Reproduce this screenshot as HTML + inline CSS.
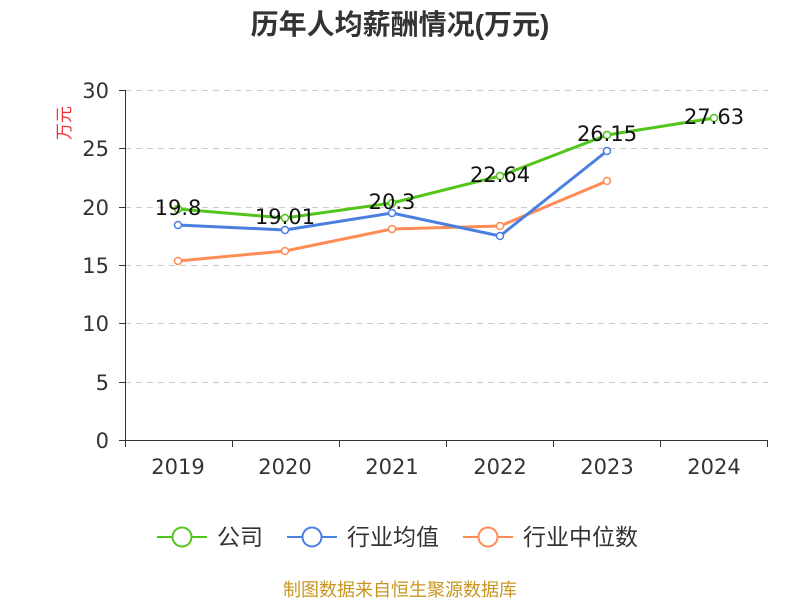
<!DOCTYPE html>
<html><head><meta charset="utf-8"><style>
body{margin:0;background:#fff;}
text{font-family:"DejaVu Sans","Noto Sans CJK SC",sans-serif;}
.c{font-family:"Liberation Sans","Noto Sans CJK SC",sans-serif;}
</style></head><body>
<svg width="800" height="600" xmlns="http://www.w3.org/2000/svg">
<text class="c" x="400" y="34" text-anchor="middle" font-size="28" font-weight="bold" fill="#333">历年人均薪酬情况(万元)</text>
<text class="c" transform="translate(70,123) rotate(-90)" text-anchor="middle" font-size="17" fill="#e33">万元</text>
<g stroke="#ccc" stroke-dasharray="6,5" stroke-width="1">
<line x1="125" x2="768" y1="90.5" y2="90.5"/><line x1="125" x2="768" y1="148.5" y2="148.5"/>
<line x1="125" x2="768" y1="207.5" y2="207.5"/><line x1="125" x2="768" y1="265.5" y2="265.5"/>
<line x1="125" x2="768" y1="323.5" y2="323.5"/><line x1="125" x2="768" y1="382.5" y2="382.5"/>
</g>
<g stroke="#333" stroke-width="1">
<line x1="125.5" x2="125.5" y1="90" y2="440"/>
<line x1="125" x2="768" y1="440.5" y2="440.5"/>
<line x1="119" x2="125" y1="90.5" y2="90.5"/><line x1="119" x2="125" y1="148.5" y2="148.5"/>
<line x1="119" x2="125" y1="207.5" y2="207.5"/><line x1="119" x2="125" y1="265.5" y2="265.5"/>
<line x1="119" x2="125" y1="323.5" y2="323.5"/><line x1="119" x2="125" y1="382.5" y2="382.5"/>
<line x1="119" x2="125" y1="440.5" y2="440.5"/>
<line x1="125.5" x2="125.5" y1="440" y2="447"/><line x1="232.5" x2="232.5" y1="440" y2="447"/>
<line x1="339.5" x2="339.5" y1="440" y2="447"/><line x1="446.5" x2="446.5" y1="440" y2="447"/>
<line x1="553.5" x2="553.5" y1="440" y2="447"/><line x1="660.5" x2="660.5" y1="440" y2="447"/>
<line x1="767.5" x2="767.5" y1="440" y2="447"/>
</g>
<g font-size="21" fill="#333" text-anchor="end">
<text x="109" y="98">30</text><text x="109" y="156">25</text><text x="109" y="215">20</text>
<text x="109" y="273">15</text><text x="109" y="331">10</text><text x="109" y="390">5</text><text x="109" y="448">0</text>
</g>
<g font-size="21" fill="#333" text-anchor="middle">
<text x="178" y="474">2019</text><text x="285" y="474">2020</text><text x="392" y="474">2021</text>
<text x="500" y="474">2022</text><text x="607" y="474">2023</text><text x="714" y="474">2024</text>
</g>
<g fill="none" stroke-width="3">
<polyline stroke="#ff8c55" points="178,261 285,251 392,229 500,226 607,181"/>
<polyline stroke="#4a7fe0" points="178,225 285,230 392,213 500,236 607,151"/>
<polyline stroke="#52c41a" points="178,209 285,218 392,203 500,176 607,135 714,118"/>
</g>
<g fill="#fff" stroke-width="1.5">
<g stroke="#ff8c55"><circle cx="178" cy="261" r="3.5"/><circle cx="285" cy="251" r="3.5"/><circle cx="392" cy="229" r="3.5"/><circle cx="500" cy="226" r="3.5"/><circle cx="607" cy="181" r="3.5"/></g>
<g stroke="#4a7fe0"><circle cx="178" cy="225" r="3.5"/><circle cx="285" cy="230" r="3.5"/><circle cx="392" cy="213" r="3.5"/><circle cx="500" cy="236" r="3.5"/><circle cx="607" cy="151" r="3.5"/></g>
<g stroke="#52c41a"><circle cx="178" cy="209" r="3.5"/><circle cx="285" cy="218" r="3.5"/><circle cx="392" cy="203" r="3.5"/><circle cx="500" cy="176" r="3.5"/><circle cx="607" cy="135" r="3.5"/><circle cx="714" cy="118" r="3.5"/></g>
</g>
<g font-size="21" fill="#111" text-anchor="middle">
<text x="178" y="215">19.8</text><text x="285" y="224">19.01</text><text x="392" y="209">20.3</text>
<text x="500" y="182">22.64</text><text x="607" y="141">26.15</text><text x="714" y="124">27.63</text>
</g>
<g stroke-width="2" fill="#fff">
<line x1="157" x2="207" y1="537" y2="537" stroke="#52c41a"/><circle cx="182" cy="537" r="9.5" stroke="#52c41a"/>
<line x1="287" x2="337" y1="537" y2="537" stroke="#4a7fe0"/><circle cx="312" cy="537" r="9.5" stroke="#4a7fe0"/>
<line x1="463" x2="513" y1="537" y2="537" stroke="#ff8c55"/><circle cx="488" cy="537" r="9.5" stroke="#ff8c55"/>
</g>
<g class="c" font-size="23" fill="#333">
<text class="c" x="217" y="545">公司</text><text class="c" x="347" y="545">行业均值</text><text class="c" x="523" y="545">行业中位数</text>
</g>
<text class="c" x="400" y="596" text-anchor="middle" font-size="18" fill="#c8961e">制图数据来自恒生聚源数据库</text>
</svg>
</body></html>
